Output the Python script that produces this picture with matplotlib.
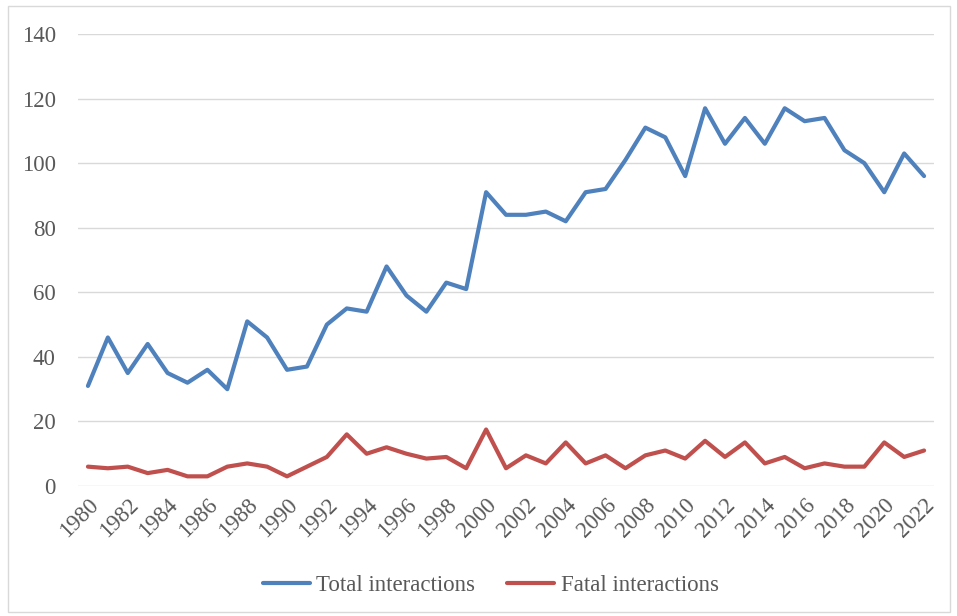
import matplotlib
matplotlib.use("Agg")
import matplotlib.pyplot as plt
from matplotlib.patches import Rectangle

# data
years = list(range(1980, 2023))
total = [31, 46, 35, 44, 35, 32, 36, 30, 51, 46, 36, 37, 50, 55, 54, 68, 59, 54, 63, 61,
         91, 84, 84, 85, 82, 91, 92, 101, 111, 108, 96, 117, 106, 114, 106, 117, 113, 114,
         104, 100, 91, 103, 96]
fatal = [6, 5.5, 6, 4, 5, 3, 3, 6, 7, 6, 3, 6, 9, 16, 10, 12, 10, 8.5, 9, 5.5,
         17.5, 5.5, 9.5, 7, 13.5, 7, 9.5, 5.5, 9.5, 11, 8.5, 14, 9, 13.5, 7, 9, 5.5, 7,
         6, 6, 13.5, 9, 11]
series_labels = ["Total interactions", "Fatal interactions"]

TEXT = "#595959"
FS = 16.5
plt.rcParams['font.family'] = ['Liberation Serif', 'DejaVu Serif']

fig = plt.figure(figsize=(9.57, 6.16), dpi=100)
ax = fig.add_axes([0.0815, 0.211, 0.8945, 0.7338])

ax.plot(years, total, color="#4F81BD", lw=3, solid_capstyle="round",
        solid_joinstyle="round", label=series_labels[0])
ax.plot(years, fatal, color="#C0504D", lw=3, solid_capstyle="round",
        solid_joinstyle="round", label=series_labels[1])

ax.set_xlim(1979.5, 2022.5)
ax.set_ylim(0, 140)
ax.set_yticks(range(0, 141, 20))
ax.set_xticks(years[::2])
ax.set_xticklabels([str(y) for y in years[::2]], rotation=45, ha="right",
                   rotation_mode="anchor")
ax.tick_params(axis="both", length=0, labelsize=FS, colors=TEXT)
ax.tick_params(axis="x", pad=6)
ax.tick_params(axis="y", pad=16)
ax.grid(axis="y", color="#D9D9D9", lw=1)
ax.set_axisbelow(True)
for s in ax.spines.values():
    s.set_visible(False)

leg = fig.legend(loc="center", bbox_to_anchor=(0.513, 0.05), ncol=2, frameon=False,
                 fontsize=FS, handlelength=2.05, handletextpad=0.3, columnspacing=1.4)
for t in leg.get_texts():
    t.set_color(TEXT)

# chart border
fig.patches.append(Rectangle((0.008, 0.006), 0.985, 0.985, transform=fig.transFigure,
                             fill=False, edgecolor="#D9D9D9", lw=1))

fig.savefig("out.png", dpi=100)
